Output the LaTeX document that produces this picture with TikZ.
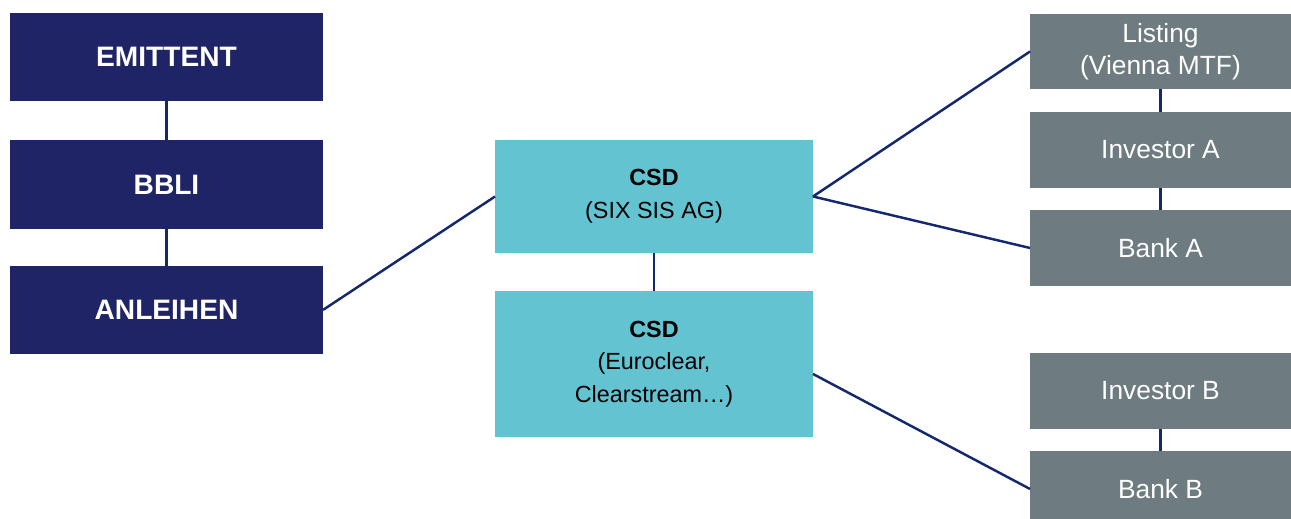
\documentclass[tikz,border=0pt]{standalone}
\usepackage{fontspec}
\setmainfont{Liberation Sans}
\usetikzlibrary{positioning}
\definecolor{navy}{HTML}{1F2466}
\definecolor{csdcyan}{HTML}{63C3D1}
\definecolor{slategrey}{HTML}{6E7B80}
\definecolor{linkblue}{HTML}{14286E}

\begin{document}
\begin{tikzpicture}[x=0.02cm, y=-0.02cm,
    issuer/.style={fill=navy, text=white, outer sep=0pt, minimum width=6.26cm, minimum height=1.77cm, font=\fontsize{16}{19}\selectfont\bfseries},
    csd/.style={fill=csdcyan, text=black, outer sep=0pt, minimum width=6.36cm, align=center, font=\fontsize{13.3}{18.5}\selectfont},
    party/.style={fill=slategrey, text=white, outer sep=0pt, minimum width=5.22cm, minimum height=1.52cm, align=center, font=\fontsize{15}{18}\selectfont},
    link/.style={draw=linkblue, line width=1.4pt}]

    \useasboundingbox (0,0) rectangle (1291,519);

    % issuer chain on the left:
    \node[issuer] (emittent) at (166.5,57) {EMITTENT};
    \node[issuer, below=0.78cm of emittent] (bbli) {BBLI};
    \node[issuer, below=0.74cm of bbli] (anleihen) {ANLEIHEN};

    % the two depositories in the middle:
    \node[csd, minimum height=2.26cm] (csda) at (654,196.5) {\textbf{CSD}\\(SIX SIS AG)};
    \node[csd, minimum height=2.92cm, below=0.76cm of csda] (csdb) {\textbf{CSD}\\(Euroclear,\\Clearstream…)};

    % listing, investors and banks on the right:
    \node[party, minimum height=1.5cm] (listing) at (1160.5,51.5) {Listing\\(Vienna MTF)};
    \node[party] (investora) at (1160.5,150) {Investor A};
    \node[party] (banka) at (1160.5,248) {Bank A};
    \node[party] (investorb) at (1160.5,391) {Investor B};
    \node[party] (bankb) at (1160.5,489) {Bank B};

    % vertical links:
    \draw[link] (emittent) -- (bbli);
    \draw[link] (bbli) -- (anleihen);
    \draw[link] (csda) -- (csdb);
    \draw[link] (listing) -- (investora);
    \draw[link] (investora) -- (banka);
    \draw[link] (investorb) -- (bankb);

    % slanted links:
    \draw[link] (anleihen.east) -- (csda.west);
    \draw[link] (csda.east) -- (listing.west);
    \draw[link] (csda.east) -- (banka.west);
    \draw[link] ([yshift=-0.2cm]csdb.east) -- (bankb.west);

\end{tikzpicture}
\end{document}
